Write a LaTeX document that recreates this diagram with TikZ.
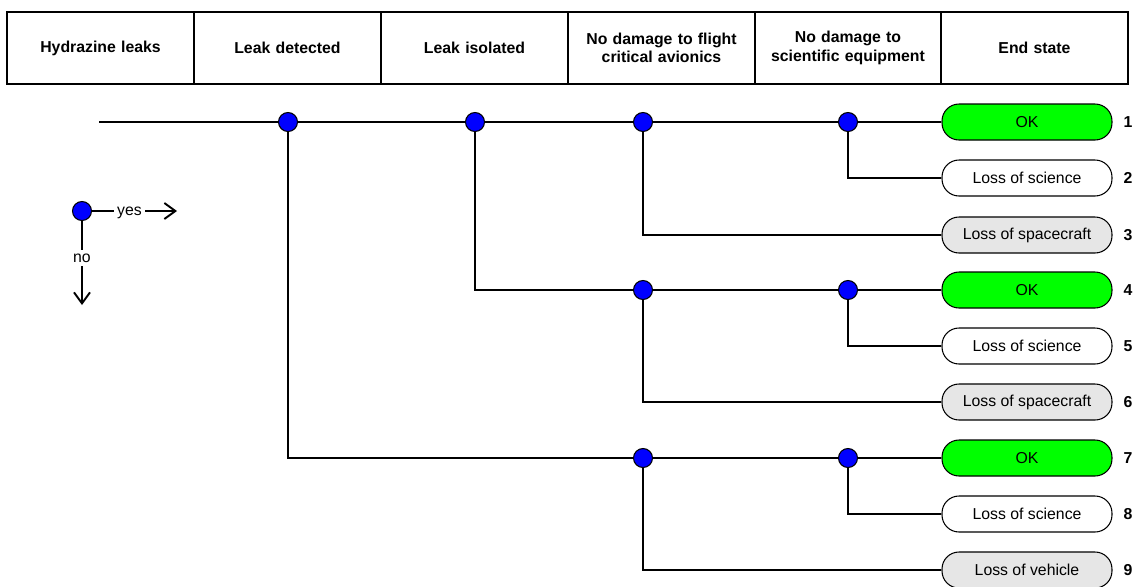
\documentclass[tikz,border=0pt]{standalone}
\usepackage{fontspec}
\setmainfont{Liberation Sans}
\usepackage{tikz}
\usetikzlibrary{positioning,arrows.meta}

\definecolor{okgreen}{RGB}{0,255,0}
\definecolor{lossgray}{RGB}{230,230,230}

\begin{document}
\begin{tikzpicture}[
    x=0.02cm, y=-0.02cm,
    every node/.style={font=\fontsize{9}{10.5}\selectfont},
    line/.style={draw, line width=1.1pt, color=black},
    header/.style={draw, line width=1.1pt, minimum width=3.733cm, minimum height=1.45cm,
        text width=3.5cm, align=center, inner sep=0pt, font=\fontsize{9}{10.5}\selectfont\bfseries},
    dot/.style={circle, draw, fill=blue, line width=0.6pt, minimum size=0.38cm, inner sep=0pt},
    endbox/.style={draw, line width=0.6pt, rounded corners=0.34cm, minimum width=3.4cm,
        minimum height=0.72cm, inner sep=0pt},
    rownum/.style={font=\fontsize{9}{10.5}\selectfont\bfseries},
    keylabel/.style={fill=white, inner sep=2pt, text height=1ex, text depth=0pt},
    arrowtip/.style={-{Straight Barb[length=2.2mm,width=3.2mm]}}
]
\useasboundingbox (0,0) rectangle (1133,586);

% Column headers
\node[header] (h1) at (100.5,48) {Hydrazine leaks};
\node[header] (h2) at (287.5,48) {Leak detected};
\node[header] (h3) at (474.5,48) {Leak isolated};
\node[header] (h4) at (661.5,48) {No damage to flight\\critical avionics};
\node[header] (h5) at (848,48) {No damage to\\scientific equipment};
\node[header] (h6) at (1034.5,48) {End state};

% Branch points
\coordinate (start) at (99,122);
\node[dot] (ld) at (288,122) {};
\node[dot] (li) at (475,122) {};
\node[dot] (av1) at (643,122) {};
\node[dot] (sc1) at (848,122) {};
\node[dot] (av2) at (643,290) {};
\node[dot] (sc2) at (848,290) {};
\node[dot] (av3) at (643,458) {};
\node[dot] (sc3) at (848,458) {};

% End states
\node[endbox, fill=okgreen] (e1) at (1027,122) {OK};
\node[endbox] (e2) at (1027,178) {Loss of science};
\node[endbox, fill=lossgray] (e3) at (1027,235) {Loss of spacecraft};
\node[endbox, fill=okgreen] (e4) at (1027,290) {OK};
\node[endbox] (e5) at (1027,346) {Loss of science};
\node[endbox, fill=lossgray] (e6) at (1027,402) {Loss of spacecraft};
\node[endbox, fill=okgreen] (e7) at (1027,458) {OK};
\node[endbox] (e8) at (1027,514) {Loss of science};
\node[endbox, fill=lossgray] (e9) at (1027,570) {Loss of vehicle};

% Sequence numbers
\foreach \n/\y in {1/122, 2/178, 3/235, 4/290, 5/346, 6/402, 7/458, 8/514, 9/570}
    \node[rownum] (n\n) at (1128,\y) {\n};

% Event tree branches
\draw[line] (start) -- (ld) -- (li) -- (av1) -- (sc1) -- (e1);
\draw[line] (sc1) |- (e2);
\draw[line] (av1) |- (e3);
\draw[line] (li) |- (av2);
\draw[line] (av2) -- (sc2) -- (e4);
\draw[line] (sc2) |- (e5);
\draw[line] (av2) |- (e6);
\draw[line] (ld) |- (av3);
\draw[line] (av3) -- (sc3) -- (e7);
\draw[line] (sc3) |- (e8);
\draw[line] (av3) |- (e9);

% Legend
\node[dot] (key) at (82,211) {};
\coordinate (keyyes) at (177,211);
\coordinate (keyno) at (82,305);
\draw[line, arrowtip] (key) -- node[pos=0.44, keylabel] {yes} (keyyes);
\draw[line, arrowtip] (key) -- node[pos=0.44, keylabel] {no} (keyno);

\end{tikzpicture}
\end{document}
